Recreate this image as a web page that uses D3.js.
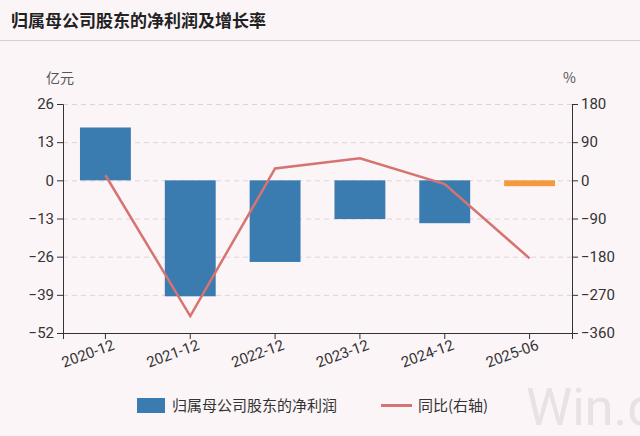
<!DOCTYPE html><html><head><meta charset="utf-8">
<script src="https://cdn.jsdelivr.net/npm/d3@7"></script>
<style>body{margin:0;background:#fcf5f8;font-family:"Noto Sans CJK SC","Noto Sans",sans-serif}</style></head><body>
<svg id="c" width="640" height="436"></svg>
<script>
const categories=["2020-12","2021-12","2022-12","2023-12","2024-12","2025-06"];
const profit=[18,-39.5,-27.8,-13.2,-14.6,-2];
const yoy=[12,-320,28,52,-9,-184];
const leftTicks=[26,13,0,-13,-26,-39,-52];
const rightTicks=[180,90,0,-90,-180,-270,-360];
const svg=d3.select("#c");
svg.append("rect").attr("width",640).attr("height",436).attr("fill","#fcf5f8");
svg.append("text").attr("x",11).attr("y",27).attr("font-size",17).attr("font-weight","bold").attr("fill","#222").text("归属母公司股东的净利润及增长率");
svg.append("line").attr("x1",0).attr("x2",640).attr("y1",40.5).attr("y2",40.5).attr("stroke","#d6cfd3");
const L=63,R=572,T=104,B=333;
const x=d3.scaleBand().domain(categories).range([L,R]).paddingInner(0.4).paddingOuter(0.2);
const yl=d3.scaleLinear().domain([-52,26]).range([B,T]);
const yr=d3.scaleLinear().domain([-360,180]).range([B,T]);
svg.append("g").selectAll("line").data(leftTicks).join("line").attr("x1",L).attr("x2",R).attr("y1",d=>yl(d)+.5).attr("y2",d=>yl(d)+.5).attr("stroke","#dcd3d8").attr("stroke-dasharray","5,4");
svg.append("g").selectAll("rect").data(profit).join("rect").attr("x",(d,i)=>x(categories[i])).attr("width",x.bandwidth())
 .attr("y",d=>yl(Math.max(0,d))).attr("height",d=>Math.abs(yl(d)-yl(0))).attr("fill",(d,i)=>i==5?"#f39a3d":"#3a7cb0");
const ga=svg.append("g").attr("transform",`translate(${L},0)`).call(d3.axisLeft(yl).tickValues(leftTicks).tickSize(6));
const gb=svg.append("g").attr("transform",`translate(${R},0)`).call(d3.axisRight(yr).tickValues(rightTicks).tickSize(6));
const gx=svg.append("g").attr("transform",`translate(0,${B})`).call(d3.axisBottom(x).tickSize(6));
[ga,gb,gx].forEach(g=>{g.selectAll("path,line").attr("stroke","#333");g.selectAll("text").attr("font-size",15).attr("fill","#333").attr("font-family","Roboto,sans-serif");});
gx.selectAll("text").attr("text-anchor","end").attr("transform","rotate(-20)").attr("x",4).attr("y",8).attr("dy","0.7em");
const line=d3.line().x((d,i)=>x(categories[i])+x.bandwidth()/2).y(d=>yr(d));
svg.append("path").datum(yoy).attr("d",line).attr("fill","none").attr("stroke","#d57471").attr("stroke-width",2.5);
svg.append("text").attr("x",46).attr("y",83).attr("font-size",14).attr("fill","#555").text("亿元");
svg.append("text").attr("x",563).attr("y",83).attr("font-size",14).attr("fill","#555").text("%");
svg.append("text").attr("x",526).attr("y",425).attr("font-size",52).attr("font-family","Roboto,sans-serif").attr("fill","#e8e2e5").text("Win.d");
svg.append("rect").attr("x",137).attr("y",398).attr("width",28).attr("height",15).attr("fill","#3a7cb0");
svg.append("text").attr("x",172).attr("y",411).attr("font-size",15).attr("fill","#333").text("归属母公司股东的净利润");
svg.append("line").attr("x1",381).attr("x2",412).attr("y1",405.5).attr("y2",405.5).attr("stroke","#d57471").attr("stroke-width",3);
svg.append("text").attr("x",418).attr("y",411).attr("font-size",15).attr("fill","#333").text("同比(右轴)");
</script></body></html>
